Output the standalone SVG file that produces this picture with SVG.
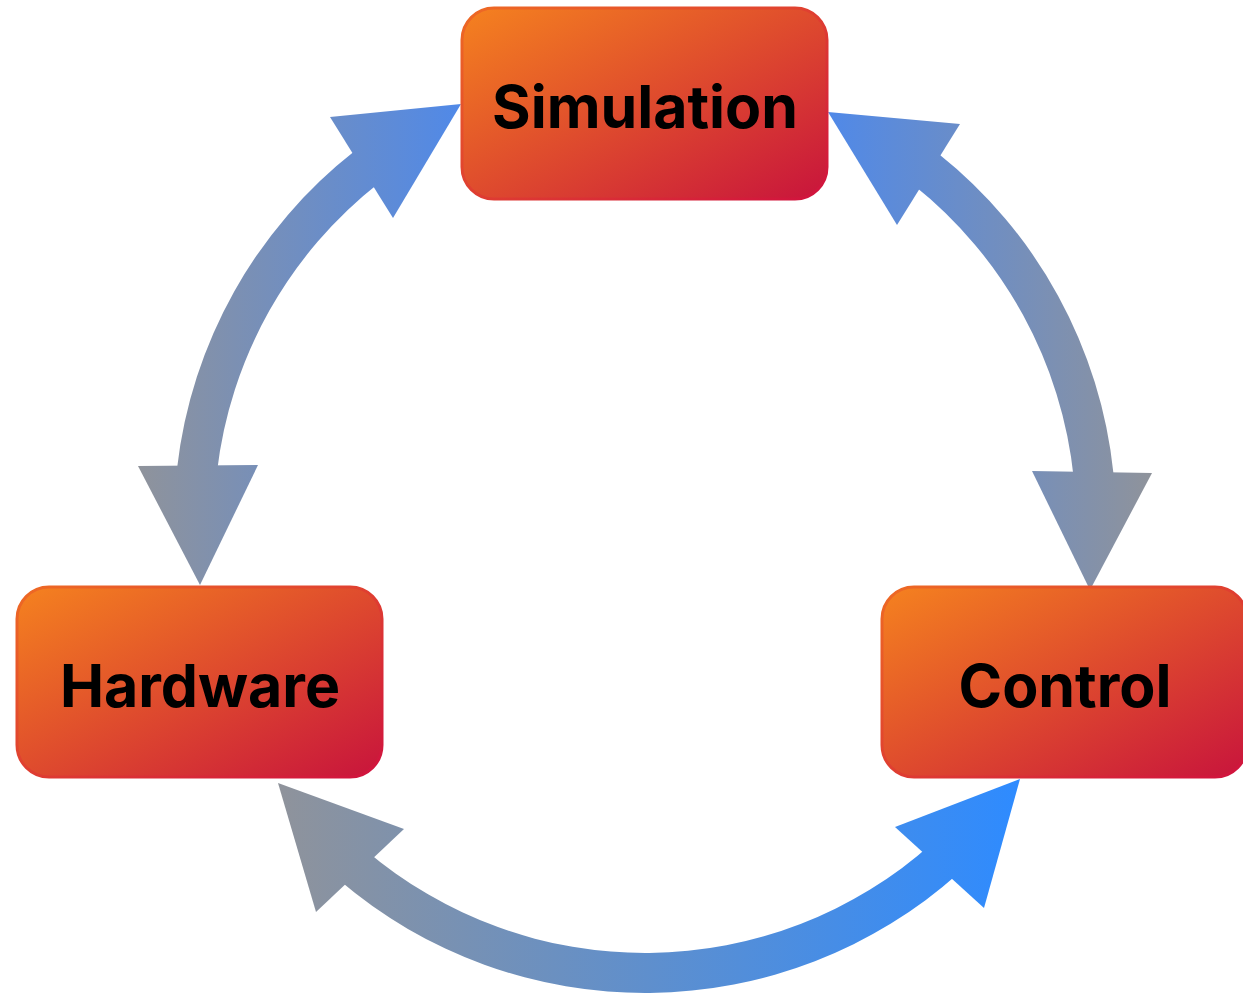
<svg xmlns="http://www.w3.org/2000/svg" width="1243" height="994" viewBox="0 0 1243 994">
  <defs>
    <linearGradient id="boxFill" x1="0" y1="0" x2="1" y2="1">
      <stop offset="0" stop-color="#F5821F"/>
      <stop offset="1" stop-color="#C8143C"/>
    </linearGradient>
    <linearGradient id="boxStroke" x1="0" y1="0" x2="1" y2="1">
      <stop offset="0" stop-color="#EE6A24"/>
      <stop offset="1" stop-color="#D0123E"/>
    </linearGradient>
    <linearGradient id="gradLeft" gradientUnits="userSpaceOnUse" x1="138" y1="0" x2="461" y2="0">
      <stop offset="0" stop-color="#8F939B"/>
      <stop offset="1" stop-color="#5089E8"/>
    </linearGradient>
    <linearGradient id="gradRight" gradientUnits="userSpaceOnUse" x1="828" y1="0" x2="1152" y2="0">
      <stop offset="0" stop-color="#5089E8"/>
      <stop offset="1" stop-color="#8F939B"/>
    </linearGradient>
    <linearGradient id="gradBottom" gradientUnits="userSpaceOnUse" x1="278" y1="0" x2="1020" y2="0">
      <stop offset="0" stop-color="#8F939B"/>
      <stop offset="1" stop-color="#2E8BFF"/>
    </linearGradient>
  </defs>
  <style>
    .box { fill: url(#boxFill); stroke: url(#boxStroke); stroke-width: 3; }
    .label { font-family: Inter, Roboto, "Liberation Sans", sans-serif; font-weight: 700; font-size: 59px; fill: #000; text-anchor: middle; dominant-baseline: central; }
  </style>

  <!-- connectors: double-headed arc bands on a circle centred at (645,522), r = 451, band width 40 -->
  <g id="connectors">
    <g id="edge-sim-hw">
      <path fill="url(#gradLeft)" d="M 355.0 150.8 A 471 471 0 0 0 177.1 467.9 L 216.9 472.5 A 431 431 0 0 1 379.6 182.4 Z"/>
      <polygon fill="url(#gradLeft)" points="330,117 393,218 461,104"/>
      <polygon fill="url(#gradLeft)" points="138,466 258,465 200,585"/>
    </g>
    <g id="edge-sim-ctrl">
      <path fill="url(#gradRight)" d="M 938.2 153.4 A 471 471 0 0 1 1113.5 473.8 L 1073.7 477.8 A 431 431 0 0 0 913.3 184.7 Z"/>
      <polygon fill="url(#gradRight)" points="960,124 897,225 828,112"/>
      <polygon fill="url(#gradRight)" points="1032,471 1152,473 1090,590"/>
    </g>
    <g id="edge-hw-ctrl">
      <path fill="url(#gradBottom)" d="M 339.1 880.1 A 471 471 0 0 0 958.3 873.6 L 931.7 843.8 A 431 431 0 0 1 365.1 849.7 Z"/>
      <polygon fill="url(#gradBottom)" points="404,829 316,912 278,783"/>
      <polygon fill="url(#gradBottom)" points="895,827 984,908 1020,779"/>
    </g>
  </g>

  <g id="simulation">
    <rect class="box" x="462" y="8" width="365" height="191" rx="32" ry="32"/>
    <text class="label" x="645" y="106">Simulation</text>
  </g>
  <g id="hardware">
    <rect class="box" x="17" y="587" width="365" height="190" rx="32" ry="32"/>
    <text class="label" x="200" y="685">Hardware</text>
  </g>
  <g id="control">
    <rect class="box" x="882" y="587" width="365" height="190" rx="32" ry="32"/>
    <text class="label" x="1065" y="685">Control</text>
  </g>
</svg>
